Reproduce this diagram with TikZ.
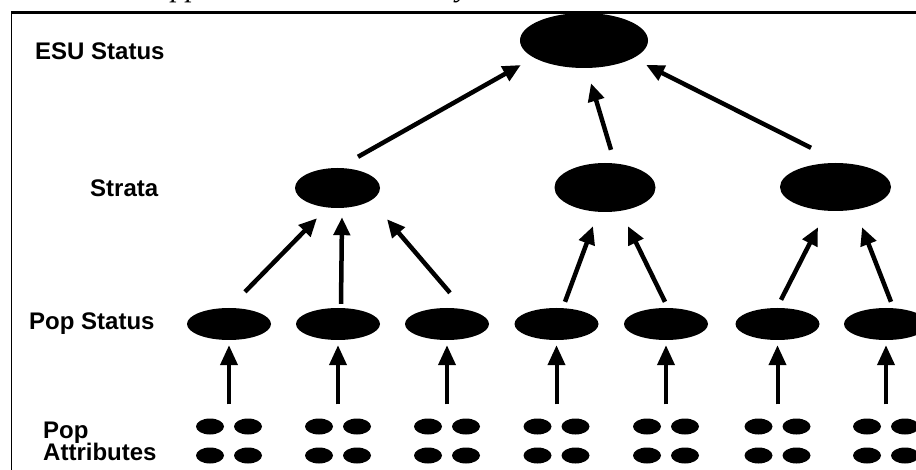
\documentclass[tikz,border=0pt]{standalone}
\usepackage{fontspec}
\setmainfont{Liberation Serif}
\setsansfont{Liberation Sans}
\usetikzlibrary{shapes.geometric,arrows.meta,calc}
\begin{document}
\begin{tikzpicture}[x=1pt,y=-1pt,
  blob/.style={ellipse,fill=black,inner sep=0pt},
  lab/.style={font=\sffamily\bfseries\fontsize{24}{26}\selectfont,inner sep=0pt},
  arr/.style={line width=4.5pt,-{Triangle[length=18pt,width=16pt]}},
  varr/.style={line width=4pt,-{Triangle[length=20pt,width=17pt]}},
  dotblob/.style={ellipse,fill=black,inner sep=0pt,minimum width=28pt,minimum height=16pt},
  popblob/.style={blob,minimum width=84pt,minimum height=32pt}]
\useasboundingbox (0,0) rectangle (916,470);
\clip (0,0) rectangle (916,470);
% caption (cut off at top in the reference)
\node[anchor=base east,inner sep=0pt,font=\itshape\fontsize{30}{32}\selectfont] (cap) at (567,-3) {Hierarchical approach to ESU viability criteria};
% frame
\draw[line width=1.5pt] (11.5,470) -- (11.5,12.5);
\draw[line width=3pt] (10.75,12.5) -- (916,12.5);
% level labels
\node[lab,anchor=base west] (lesu) at (35,60) {ESU Status};
\node[lab,anchor=base west] (lstr) at (90,197) {Strata};
\node[lab,anchor=base west] (lpop) at (29,330) {Pop Status};
\node[lab,anchor=base west] (lpa) at (43,438) {Pop};
\node[lab,anchor=base west] (lpb) at (43,460) {Attributes};
% ESU
\node[blob,minimum width=128pt,minimum height=55pt] (esu) at (584,40.5) {};
% strata
\node[blob,minimum width=85pt,minimum height=40pt] (s1) at (337.5,188) {};
\node[blob,minimum width=101pt,minimum height=49pt] (s2) at (605,187.5) {};
\node[blob,minimum width=111pt,minimum height=48pt] (s3) at (835.5,187) {};
% populations
\foreach \i/\x in {1/229,2/338,3/447,4/556.5,5/666,6/777.5,7/886}{
  \node[popblob] (p\i) at (\x,324) {};
  \node[dotblob] (d\i a) at (\x-19,426.5) {};
  \node[dotblob] (d\i b) at (\x+19,426.5) {};
  \node[dotblob] (d\i c) at (\x-19,455.5) {};
  \node[dotblob] (d\i d) at (\x+19,455.5) {};
  \draw[varr] ($(d\i a.north)!.5!(d\i b.north)+(0,-14)$) -- ([shift={(0,5)}]p\i.south);
}
% pop -> strata
\draw[arr] ([shift={(16,-16)}]p1.north) -- ([shift={(-20.5,10)}]s1.south);
\draw[arr] ([shift={(3,-4)}]p2.north) -- ([shift={(4.5,9)}]s1.south);
\draw[arr] ([shift={(3,-15)}]p3.north) -- ([shift={(49.5,11)}]s1.south);
\draw[arr] ([shift={(8.5,-6)}]p4.north) -- ([shift={(-12,14)}]s2.south);
\draw[arr] ([shift={(-1,-6)}]p5.north) -- ([shift={(23,14)}]s2.south);
\draw[arr] ([shift={(3.5,-8)}]p6.north) -- ([shift={(-17.5,16)}]s3.south);
\draw[arr] ([shift={(5,-6)}]p7.north) -- ([shift={(26.5,16)}]s3.south);
% strata -> ESU
\draw[arr] ([shift={(20.5,-11)}]s1.north) -- ([shift={(1,24.5)}]esu.west);
\draw[arr] ([shift={(6,-13)}]s2.north) -- ([shift={(7,15)}]esu.south);
\draw[arr] ([shift={(-24.5,-15)}]s3.north) -- ([shift={(-2,24.5)}]esu.east);
\end{tikzpicture}
\end{document}
